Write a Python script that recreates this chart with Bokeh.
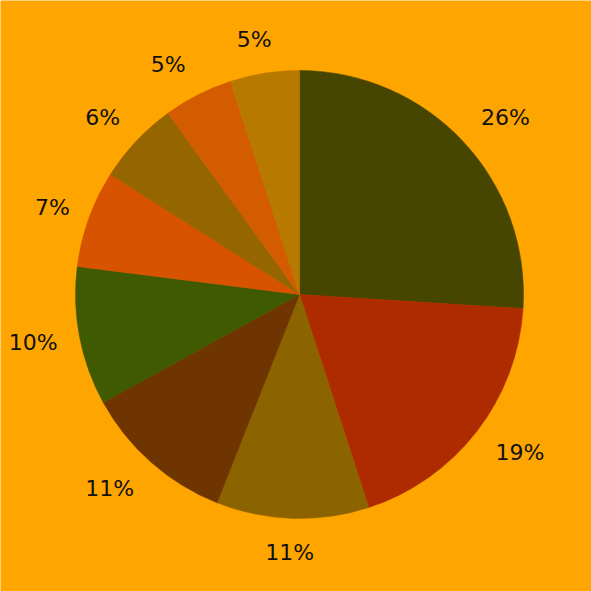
import math
import numpy as np
from bokeh.plotting import figure
from bokeh.models import ColumnDataSource, Range1d
from bokeh.core.properties import value
from bokeh.embed import file_html
from bokeh.resources import INLINE

# Share of each slice, clockwise from 12 o'clock
shares = [26, 19, 11, 11, 10, 7, 6, 5, 5]
colors = ["#464600", "#AE2B00", "#8B6400", "#6E3500", "#3F5A00",
          "#D75300", "#956500", "#D35B00", "#B87900"]
labels = [f"{s}%" for s in shares]

W = H = 591
cx, cy = 299, 297          # pie centre (data units == pixels)
r = 224                    # pie radius
gap_x, gap_y = 14, 34      # label anchor offsets beyond the rim
fs = 22                    # label font size in px

total = sum(shares)
starts, ends, lx, ly = [], [], [], []
cum = 0.0
for s, lab in zip(shares, labels):
    a0 = math.pi / 2 - 2 * math.pi * cum / total
    cum += s
    a1 = math.pi / 2 - 2 * math.pi * cum / total
    starts.append(a0)
    ends.append(a1)
    mid = (a0 + a1) / 2
    c, sn = math.cos(mid), math.sin(mid)
    # approximate text advance width; shift the label sideways away from the pie
    tw = fs * (0.636 * (len(lab) - 1) + 0.95)
    side = float(np.clip(c / 0.45, -1, 1))
    lx.append(cx + (r + gap_x) * c + 0.665 * tw * side)
    ly.append(cy + (r + gap_y) * sn)

src = ColumnDataSource(dict(start=starts, end=ends, color=colors))
lsrc = ColumnDataSource(dict(x=lx, y=ly, text=labels))

p = figure(width=W, height=H, output_backend="svg", toolbar_location=None,
           x_range=Range1d(0, W), y_range=Range1d(0, H),
           min_border=0, outline_line_color=None)
p.axis.visible = False
p.grid.visible = False
p.background_fill_color = "#FFA500"
p.border_fill_color = "#FFA500"

p.wedge(x=cx, y=cy, radius=r, start_angle="start", end_angle="end",
        direction="clock", fill_color="color", line_color="color",
        line_width=0.5, source=src)

p.text(x="x", y="y", text="text", source=lsrc,
       text_font=value("DejaVu Sans"), text_font_size=f"{fs}px",
       text_color="#111111", text_align="center", text_baseline="middle")

open("out.html", "w").write(file_html(p, INLINE))
